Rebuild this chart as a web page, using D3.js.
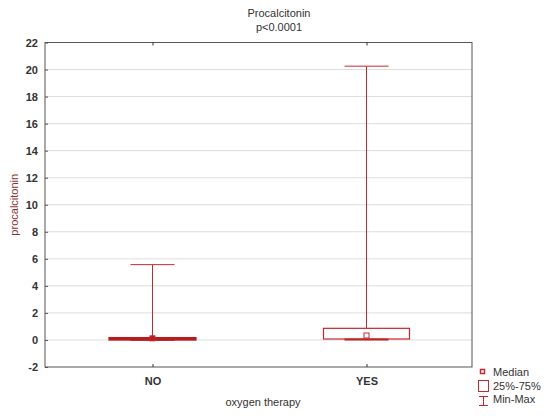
<!DOCTYPE html>
<html>
<head>
<meta charset="utf-8">
<script src="https://cdn.jsdelivr.net/npm/d3@7"></script>
<style>
  body { margin: 0; background: #fff; }
  svg { display: block; font-family: "Liberation Sans", Arial, sans-serif; }
</style>
</head>
<body>
<svg id="chart" width="550" height="416"></svg>
<script>
const groups = ["NO", "YES"]
const mins = [0.02, 0.03]
const q1s = [0.03, 0.07]
const medians = [0.12, 0.33]
const q3s = [0.14, 0.86]
const maxs = [5.57, 20.25]
const yTicks = [-2, 0, 2, 4, 6, 8, 10, 12, 14, 16, 18, 20, 22]
const legendItems = ["Median", "25%-75%", "Min-Max"]

const red = "#c8282d"
const darkRed = "#b41c20"
const svg = d3.select('#chart')
const plot = { left: 45, right: 472, top: 42.5, bottom: 367 }

const y = d3.scaleLinear().domain([-2, 22]).range([plot.bottom, plot.top])
const x = d3.scalePoint().domain(groups).range([152.5, 366.5])

// grid
svg.append('g')
  .selectAll('line')
  .data(yTicks.filter(t => t > -2 && t < 22))
  .join('line')
  .attr('x1', plot.left).attr('x2', plot.right)
  .attr('y1', d => y(d)).attr('y2', d => y(d))
  .attr('stroke', '#dcdcdc')

// frame
svg.append('rect')
  .attr('x', plot.left).attr('y', plot.top)
  .attr('width', plot.right - plot.left).attr('height', plot.bottom - plot.top)
  .attr('fill', 'none').attr('stroke', '#555')

// y axis
const yAxis = svg.append('g')
  .attr('transform', `translate(${plot.left},0)`)
  .call(d3.axisLeft(y).tickValues(yTicks).tickSize(-3).tickPadding(7).tickFormat(d => String(d)))
yAxis.select('.domain').remove()
yAxis.selectAll('.tick line').attr('stroke', '#555')
yAxis.selectAll('text').attr('font-size', 11).attr('font-weight', 'bold').attr('fill', '#333')

// x axis (bottom and top ticks)
const xAxis = svg.append('g')
  .attr('transform', `translate(0,${plot.bottom})`)
  .call(d3.axisBottom(x).tickSize(-3).tickPadding(10))
xAxis.select('.domain').remove()
xAxis.selectAll('.tick line').attr('stroke', '#333')
xAxis.selectAll('text').attr('font-size', 11).attr('font-weight', 'bold').attr('fill', '#333')

svg.append('g')
  .attr('transform', `translate(0,${plot.top})`)
  .call(d3.axisTop(x).tickSize(-3).tickFormat(''))
  .call(g => g.select('.domain').remove())
  .selectAll('.tick line').attr('stroke', '#333')

// boxes
const boxW = 86, capW = 44
groups.forEach((g, i) => {
  const cx = x(g)
  const box = svg.append('g').attr('fill', 'none').attr('stroke', red)
  box.append('line')
    .attr('x1', cx).attr('x2', cx)
    .attr('y1', y(maxs[i])).attr('y2', y(q3s[i]))
  box.append('line')
    .attr('x1', cx).attr('x2', cx)
    .attr('y1', y(q1s[i])).attr('y2', y(mins[i]))
  box.append('line')
    .attr('x1', cx - capW / 2).attr('x2', cx + capW / 2)
    .attr('y1', y(maxs[i])).attr('y2', y(maxs[i]))
  box.append('line')
    .attr('x1', cx - capW / 2).attr('x2', cx + capW / 2)
    .attr('y1', y(mins[i])).attr('y2', y(mins[i]))
    .attr('stroke', darkRed).attr('stroke-width', 2)
  box.append('rect')
    .attr('x', cx - boxW / 2).attr('width', boxW)
    .attr('y', y(q3s[i])).attr('height', Math.max(1, y(q1s[i]) - y(q3s[i])))
    .attr('stroke', i === 0 ? darkRed : red)
    .attr('stroke-width', i === 0 ? 2.2 : 1.2)
  box.append('rect')
    .attr('x', cx - 2.5).attr('y', y(medians[i]) - 2.5)
    .attr('width', 5).attr('height', 5)
    .attr('fill', i === 0 ? darkRed : '#fff')
})

// titles
svg.append('text').attr('x', 279).attr('y', 17).attr('text-anchor', 'middle')
  .attr('font-size', 11).attr('fill', '#333').text('Procalcitonin')
svg.append('text').attr('x', 279).attr('y', 31).attr('text-anchor', 'middle')
  .attr('font-size', 11).attr('fill', '#333').text('p<0.0001')
svg.append('text').attr('x', 263).attr('y', 406).attr('text-anchor', 'middle')
  .attr('font-size', 11).attr('fill', '#333').text('oxygen therapy')
svg.append('text')
  .attr('transform', `translate(18,${(plot.top + plot.bottom) / 2}) rotate(-90)`)
  .attr('text-anchor', 'middle').attr('font-size', 11).attr('fill', '#8a3030')
  .text('procalcitonin')

// legend
const lg = svg.append('g').attr('stroke', red).attr('fill', 'none')
lg.append('rect').attr('x', 480.5).attr('y', 369.5).attr('width', 4).attr('height', 4).attr('stroke-width', 1.5)
lg.append('rect').attr('x', 478.5).attr('y', 380.5).attr('width', 10).attr('height', 11)
lg.append('line').attr('x1', 483.5).attr('x2', 483.5).attr('y1', 396).attr('y2', 406)
lg.append('line').attr('x1', 479).attr('x2', 488).attr('y1', 396.5).attr('y2', 396.5)
lg.append('line').attr('x1', 479).attr('x2', 488).attr('y1', 405.5).attr('y2', 405.5)
svg.append('g').selectAll('text')
  .data(legendItems)
  .join('text')
  .attr('x', 493).attr('y', (d, i) => 376 + i * 13.5)
  .attr('font-size', 11).attr('fill', '#333')
  .text(d => d)
</script>
</body>
</html>
